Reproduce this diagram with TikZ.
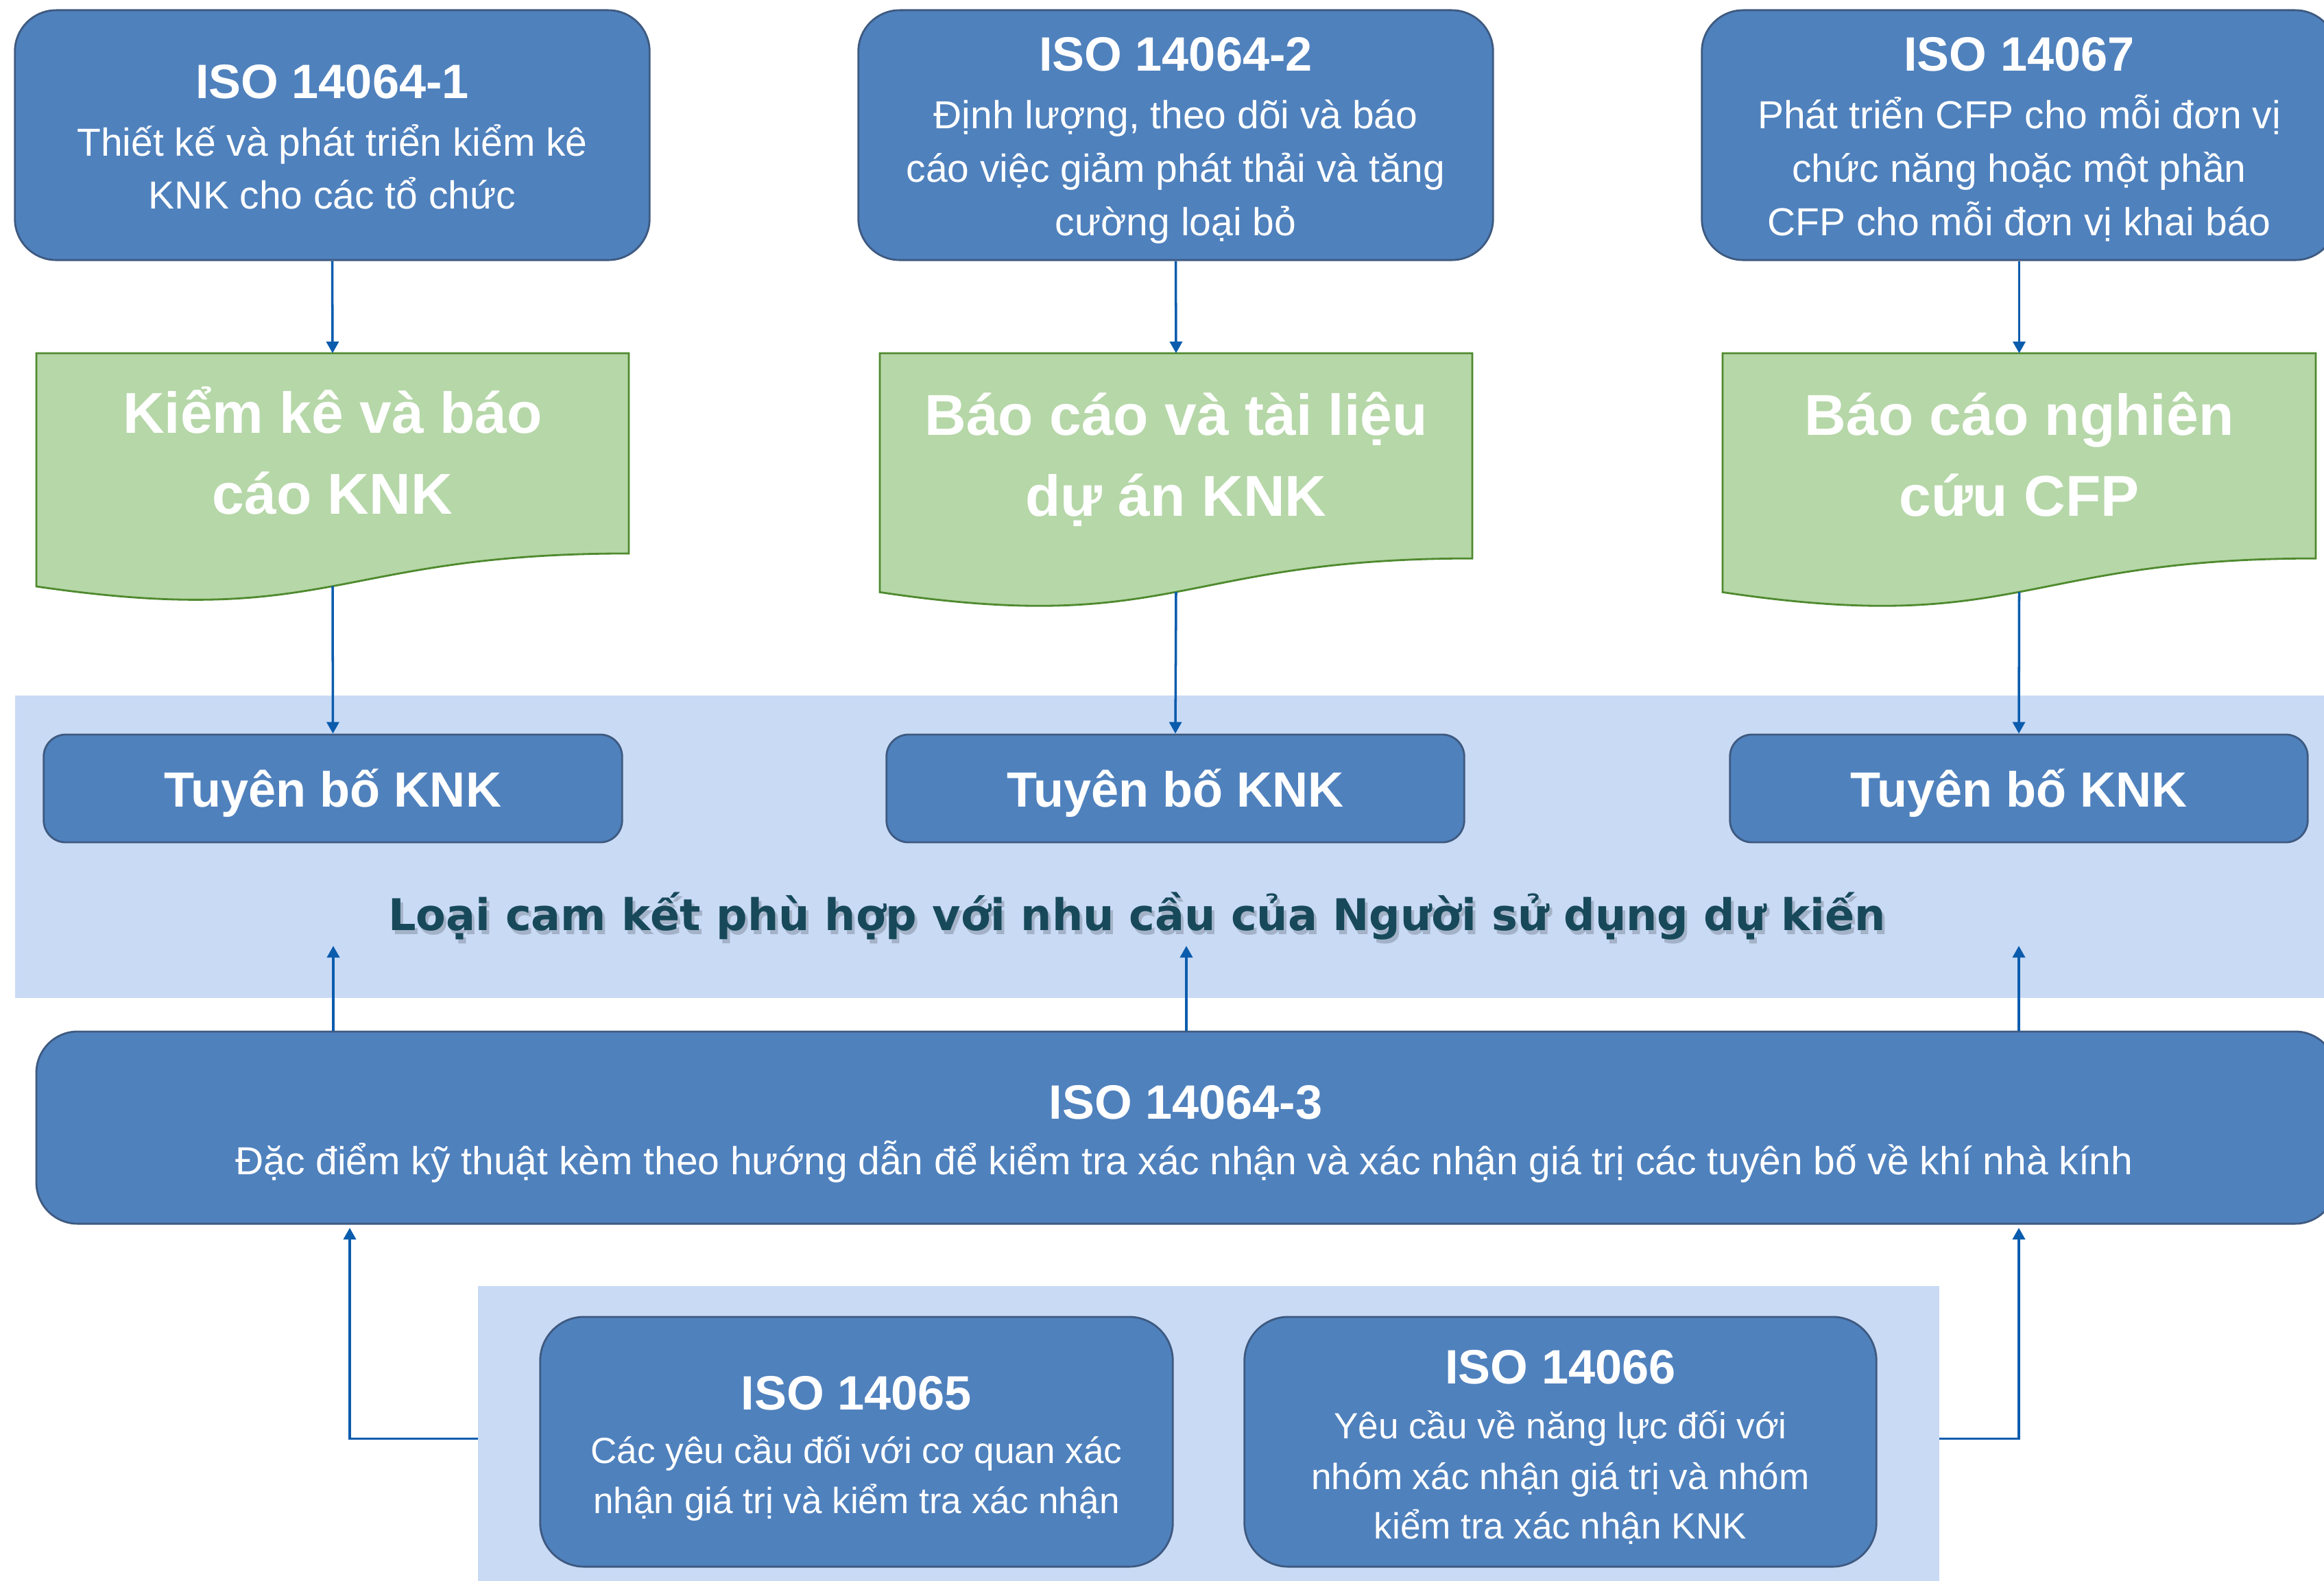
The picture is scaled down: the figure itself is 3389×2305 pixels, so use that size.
\documentclass[tikz,border=0pt]{standalone}
\usepackage{fontspec}
\setmainfont{Liberation Sans}
\newfontfamily\dvsans{DejaVu Sans}
\usetikzlibrary{arrows.meta,calc}
\definecolor{boxblue}{HTML}{4F81BD}
\definecolor{boxedge}{HTML}{3E5A80}
\definecolor{greenfill}{HTML}{B6D7A8}
\definecolor{greenedge}{HTML}{4F8A2E}
\definecolor{bandblue}{HTML}{C9DAF5}
\definecolor{arrowblue}{HTML}{0B5CAD}
\definecolor{tealtext}{HTML}{17495A}
\tikzset{
  bluebox/.style={draw=boxedge, line width=0.8pt, fill=boxblue, inner sep=0pt},
  band/.style={fill=bandblue, draw=none, inner sep=0pt},
  greendoc/.style={draw=greenedge, line width=0.8pt, fill=greenfill},
  txt/.style={anchor=base, text=white, inner sep=0pt},
  ttl/.style={txt, font=\bfseries\fontsize{20pt}{24pt}\selectfont},
  bod/.style={txt, font=\fontsize{16.2pt}{20pt}\selectfont},
  bods/.style={txt, font=\fontsize{15.1pt}{19pt}\selectfont},
  gtxt/.style={txt, font=\bfseries\fontsize{23.9pt}{28pt}\selectfont},
  ttxt/.style={txt, font=\bfseries\fontsize{20.5pt}{24pt}\selectfont},
  loaitxt/.style={anchor=base, inner sep=0pt, font=\dvsans\bfseries\fontsize{18.1pt}{21pt}\selectfont},
  arr/.style={draw=arrowblue, line width=1pt, -{Triangle[length=1.7mm,width=1.8mm]}},
}
\newcommand\mydoc[5]{%
  \draw[greendoc] (#2,#4) -- (#3,#4) -- (#3,{#4+0.802*#5})
    .. controls ({(#2+#3)/2},{#4+0.802*#5}) and ({(#2+#3)/2},{#4+1.1075*#5}) .. (#2,{#4+0.934*#5}) -- cycle;
  \coordinate (#1-top) at ({(#2+#3)/2},#4);
  \coordinate (#1-bot) at ({(#2+#3)/2},{#4+0.933*#5});
}
\begin{document}
\begin{tikzpicture}[x=0.01cm,y=-0.01cm]
\useasboundingbox (0,0) rectangle (3389,2305);
\fill[white] (0,0) rectangle (3389,2305);

% background bands
\node[band, minimum width=33.97cm, minimum height=4.41cm] (band1) at (1721.5,1234.5) {};
\node[band, minimum width=21.29cm, minimum height=4.45cm] (band2) at (1762.5,2097.5) {};

% top boxes
\node[bluebox, rounded corners=0.6cm, minimum width=9.25cm, minimum height=3.64cm] (b1) at (484.5,197) {};
\node[bluebox, rounded corners=0.6cm, minimum width=9.25cm, minimum height=3.64cm] (b2) at (1714.5,197) {};
\node[bluebox, rounded corners=0.6cm, minimum width=9.25cm, minimum height=3.64cm] (b3) at (2944.5,197) {};

\node[ttl] (b1t) at (484.5,143) {ISO 14064-1};
\node[bod] (b1a) at (484.5,227) {Thiết kế và phát triển kiểm kê};
\node[bod] (b1b) at (484.5,304) {KNK cho các tổ chức};

\node[ttl] (b2t) at (1714.5,103) {ISO 14064-2};
\node[bod] (b2a) at (1714.5,187) {Định lượng, theo dõi và báo};
\node[bod] (b2b) at (1714.5,265) {cáo việc giảm phát thải và tăng};
\node[bod] (b2c) at (1714.5,343) {cường loại bỏ};

\node[ttl] (b3t) at (2944.5,103) {ISO 14067};
\node[bod] (b3a) at (2944.5,187) {Phát triển CFP cho mỗi đơn vị};
\node[bod] (b3b) at (2944.5,265) {chức năng hoặc một phần};
\node[bod] (b3c) at (2944.5,343) {CFP cho mỗi đơn vị khai báo};

% green documents
\mydoc{g1}{53}{917}{515}{364}
\mydoc{g2}{1283}{2147}{515}{373}
\mydoc{g3}{2512}{3377}{515}{373}

\node[gtxt] (g1a) at (485,631) {Kiểm kê và báo};
\node[gtxt] (g1b) at (485,749) {cáo KNK};
\node[gtxt] (g2a) at (1715,634) {Báo cáo và tài liệu};
\node[gtxt] (g2b) at (1715,752) {dự án KNK};
\node[gtxt] (g3a) at (2944.5,634) {Báo cáo nghiên};
\node[gtxt] (g3b) at (2944.5,752) {cứu CFP};

% claim boxes
\node[bluebox, rounded corners=0.32cm, minimum width=8.43cm, minimum height=1.57cm] (t1) at (485.5,1149.5) {};
\node[bluebox, rounded corners=0.32cm, minimum width=8.42cm, minimum height=1.57cm] (t2) at (1714,1149.5) {};
\node[bluebox, rounded corners=0.32cm, minimum width=8.42cm, minimum height=1.57cm] (t3) at (2944,1149.5) {};
\node[ttxt] (t1t) at (485.5,1176) {Tuyên bố KNK};
\node[ttxt] (t2t) at (1714,1176) {Tuyên bố KNK};
\node[ttxt] (t3t) at (2944,1176) {Tuyên bố KNK};

% band title with soft shadow
\node[loaitxt, text=black, opacity=0.18] (loaish) at (1662,1362) {Loại cam kết phù hợp với nhu cầu của Người sử dụng dự kiến};
\node[loaitxt, text=tealtext] (loai) at (1658,1356) {Loại cam kết phù hợp với nhu cầu của Người sử dụng dự kiến};

% ISO 14064-3
\node[bluebox, rounded corners=0.6cm, minimum width=33.52cm, minimum height=2.80cm] (iso3) at (1730,1644) {};
\node[ttl] (iso3t) at (1729,1631) {ISO 14064-3};
\node[bod] (iso3a) at (1727,1712) {Đặc điểm kỹ thuật kèm theo hướng dẫn để kiểm tra xác nhận và xác nhận giá trị các tuyên bố về khí nhà kính};

% ISO 14065 / 14066
\node[bluebox, rounded corners=0.64cm, minimum width=9.22cm, minimum height=3.64cm] (iso5) at (1249,2102) {};
\node[ttl] (iso5t) at (1249,2055) {ISO 14065};
\node[bods] (iso5a) at (1249,2133) {Các yêu cầu đối với cơ quan xác};
\node[bods] (iso5b) at (1249,2206) {nhận giá trị và kiểm tra xác nhận};

\node[bluebox, rounded corners=0.64cm, minimum width=9.21cm, minimum height=3.64cm] (iso6) at (2275.5,2102) {};
\node[ttl] (iso6t) at (2275.5,2017) {ISO 14066};
\node[bods] (iso6a) at (2275.5,2097) {Yêu cầu về năng lực đối với};
\node[bods] (iso6b) at (2275.5,2171) {nhóm xác nhận giá trị và nhóm};
\node[bods] (iso6c) at (2275.5,2243) {kiểm tra xác nhận KNK};

% connectors
\draw[arr] (b1.south) -- (g1-top);
\draw[arr] (b2.south) -- (g2-top);
\draw[arr] (b3.south) -- (g3-top);
\draw[arr] (g1-bot) -- (t1.north);
\draw[arr] (g2-bot) -- (t2.north);
\draw[arr] (g3-bot) -- (t3.north);

\coordinate (u1) at (486,1379);
\coordinate (u2) at (1730,1379);
\coordinate (u3) at (2944,1379);
\draw[arr] (u1 |- iso3.north) -- (u1);
\draw[arr] (u2 |- iso3.north) -- (u2);
\draw[arr] (u3 |- iso3.north) -- (u3);

\coordinate (d1) at (510,1790);
\coordinate (d2) at (2944,1790);
\draw[arr] (band2.west) -| (d1);
\draw[arr] (band2.east) -| (d2);
\end{tikzpicture}
\end{document}
